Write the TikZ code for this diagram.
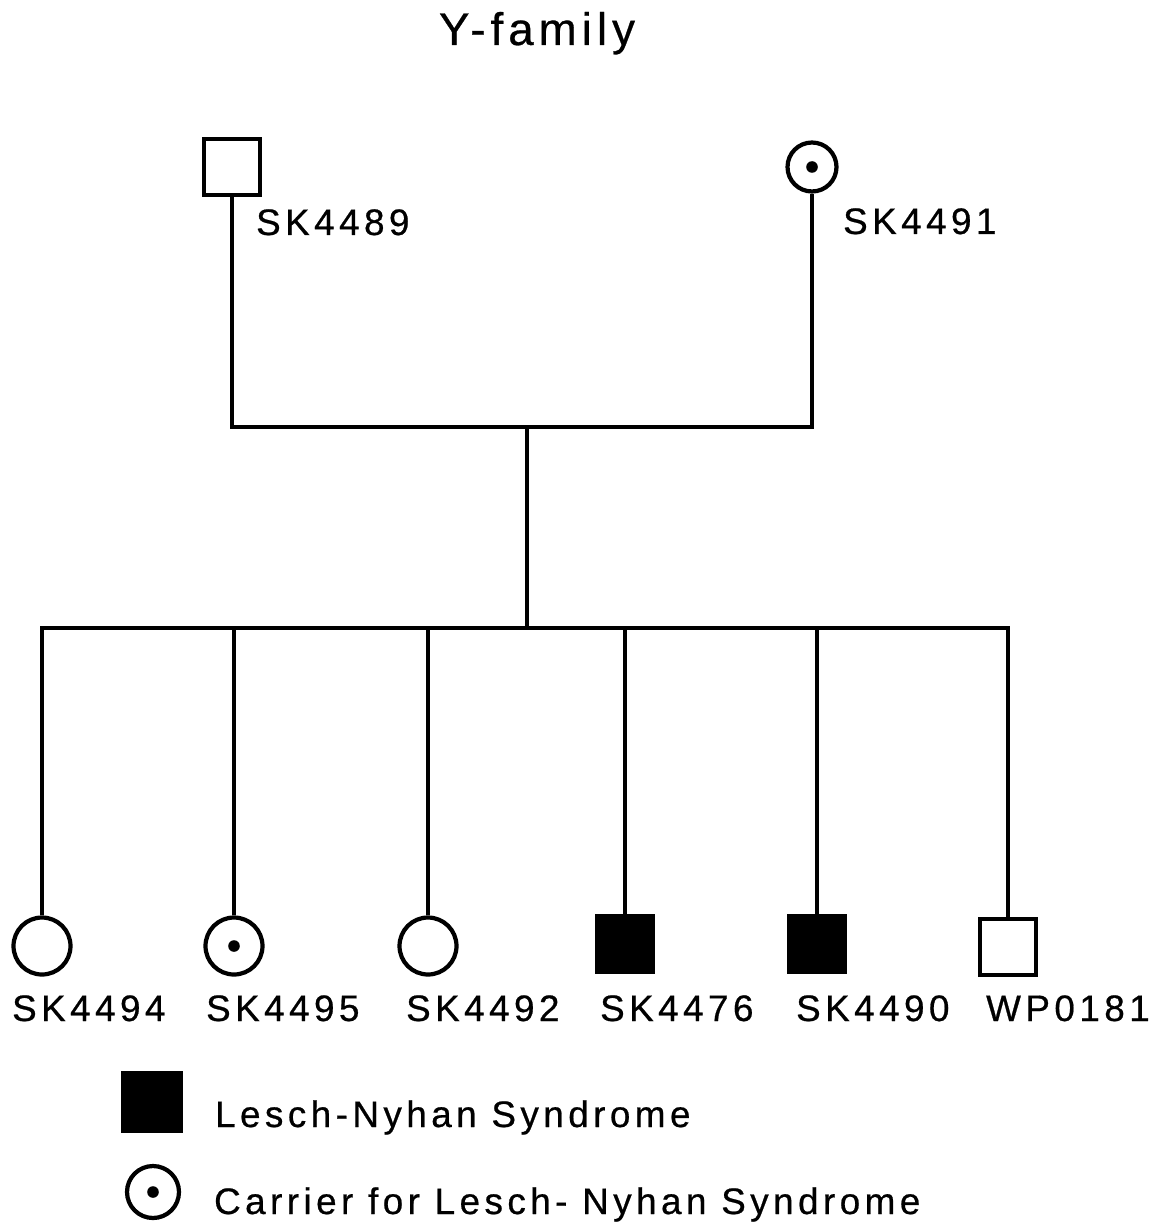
\documentclass[tikz,border=0pt]{standalone}
\usepackage{fontspec}
\setmainfont{Liberation Sans}[LetterSpace=12, FakeBold=0.6]
\usepackage{tikz}
\usetikzlibrary{positioning}

\begin{document}
\begin{tikzpicture}[x=0.02cm, y=-0.02cm, line width=2.4pt,
  every node/.style={font=\fontsize{21}{25}\selectfont, inner sep=0pt},
  male/.style={rectangle,draw,minimum size=1.12cm},
  female/.style={circle,draw,minimum size=1.14cm},
  affected/.style={fill=black},
  carrier/.style={path picture={\fill (path picture bounding box.center) circle (3.3pt);}}]
\useasboundingbox (0,0) rectangle (1163,1226);

% Title
\node[font=\fontsize{26}{30}\selectfont\addfontfeatures{LetterSpace=11}, anchor=base] (title) at (537,45) {Y-family};

% Parents
\node[male] at (232,167) (father) {};
\node[female,carrier,minimum size=0.98cm] at (812,167) (mother) {};
\node[anchor=base west] at (254,235) (lfather) {SK4489};
\node[anchor=base west] at (841,234) (lmother) {SK4491};

% Children
\node[female] at (42,946) (c1) {};
\node[female,carrier] at (234,946) (c2) {};
\node[female] at (428,946) (c3) {};
\node[male,affected] at (625,944) (c4) {};
\node[male,affected] at (817,944) (c5) {};
\node[male] at (1008,947) (c6) {};
\node[anchor=base west] at (10,1021) (l1) {SK4494};
\node[anchor=base west] at (204,1021) (l2) {SK4495};
\node[anchor=base west] at (404,1021) (l3) {SK4492};
\node[anchor=base west] at (598,1021) (l4) {SK4476};
\node[anchor=base west] at (794,1021) (l5) {SK4490};
\node[anchor=base west] at (984,1021) (l6) {WP0181};

% Lines of descent
\coordinate (union) at (527,427);
\coordinate (sibs) at (527,628);
\draw (father) |- (union) -| (mother);
\draw (union) -- (sibs);
\foreach \c in {c1,c2,c3,c4,c5,c6} {
    \draw (sibs) -| (\c);
}

% Legend
\node[male,affected,minimum size=1.16cm] at (152,1102) (keyaff) {};
\node[female,carrier,minimum size=1.04cm] at (153,1192) (keycar) {};
\node[anchor=base west] at (213,1127) (tkeyaff) {Lesch-Nyhan Syndrome};
\node[anchor=base west] at (212,1214) (tkeycar) {Carrier for Lesch- Nyhan Syndrome};
\end{tikzpicture}
\end{document}
